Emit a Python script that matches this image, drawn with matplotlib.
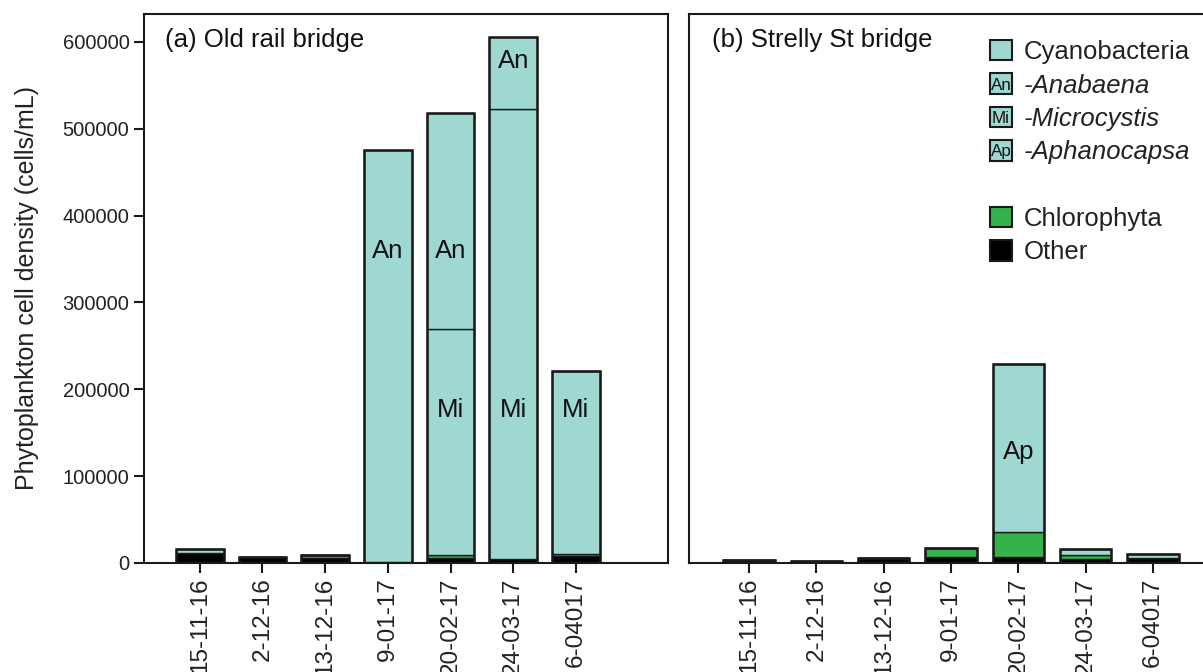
import numpy as np
import matplotlib
matplotlib.use('Agg')
import matplotlib.pyplot as plt
from matplotlib.patches import Rectangle
from matplotlib.text import Text
from matplotlib.legend_handler import HandlerPatch

plt.rcParams['font.family'] = ['Liberation Sans', 'DejaVu Sans']

# Sampling dates (as printed on the original figure)
dates = ['15-11-16', '2-12-16', '13-12-16', '9-01-17', '20-02-17', '24-03-17', '6-04017']

# (a) Old rail bridge, cells/mL
other_a = [11500, 7300, 6000, 1000, 6000, 4600, 8000]
chloro_a = [0, 0, 3600, 0, 3000, 0, 2000]
cyan_lo_a = [4500, 0, 0, 0, 260500, 518200, 211100]
cyan_hi_a = [0, 0, 0, 474600, 248700, 83000, 0]
lab_lo_a = ['', '', '', '', 'Mi', 'Mi', 'Mi']
lab_hi_a = ['', '', '', 'An', 'An', 'An', '']

# (b) Strelly St bridge, cells/mL
other_b = [3000, 2800, 5400, 6500, 6500, 4500, 5500]
chloro_b = [0, 0, 0, 11000, 28900, 4400, 0]
cyan_lo_b = [0, 0, 0, 0, 193800, 6900, 4500]
cyan_hi_b = [0, 0, 0, 0, 0, 0, 0]
lab_lo_b = ['', '', '', '', 'Ap', '', '']
lab_hi_b = ['', '', '', '', '', '', '']

CYAN = '#9ed8d1'
GREEN = '#35b24c'
DARK = '#1a1a1a'
W = 0.76


def draw_panel(ax, other, chloro, lo, hi, lab_lo, lab_hi, title):
    x = np.arange(len(dates))
    other = np.array(other)
    chloro = np.array(chloro)
    lo = np.array(lo)
    hi = np.array(hi)
    b1 = other
    b2 = b1 + chloro
    b3 = b2 + lo
    ax.bar(x, other, W, color='black', edgecolor=DARK, lw=1)
    ax.bar(x, chloro, W, bottom=b1, color=GREEN, edgecolor=DARK, lw=1)
    ax.bar(x, lo, W, bottom=b2, color=CYAN, edgecolor=DARK, lw=1)
    ax.bar(x, hi, W, bottom=b3, color=CYAN, edgecolor=DARK, lw=1)
    total = b3 + hi
    ax.bar(x, total, W, fill=False, edgecolor=DARK, lw=1.8)
    for i in range(len(x)):
        if lab_lo[i]:
            yl = 176000 if lab_lo[i] == 'Mi' else 128000
            ax.text(x[i], yl, lab_lo[i], ha='center', va='center', fontsize=18.5, color='#111')
        if lab_hi[i]:
            yh = 359000 if hi[i] > 200000 else b3[i] + hi[i] * 0.66
            ax.text(x[i], yh, lab_hi[i], ha='center', va='center', fontsize=18.5, color='#111')
    ax.set_xlim(-0.89, 7.47)
    ax.set_ylim(0, 632000)
    ax.set_xticks(x)
    ax.set_xticklabels(dates, rotation=90, fontsize=17.5, color='#222')
    ax.text(0.04, 0.953, title, transform=ax.transAxes, fontsize=18.5,
            va='center', ha='left', color='#111')
    for s in ax.spines.values():
        s.set_linewidth(1.5)
        s.set_color(DARK)
    ax.tick_params(axis='both', direction='out', length=7, width=1.5, color=DARK)


fig = plt.figure(figsize=(12.03, 6.72), dpi=100)
ax1 = fig.add_axes([144 / 1203, 1 - 563 / 672, 524 / 1203, 549 / 672])
ax2 = fig.add_axes([689 / 1203, 1 - 563 / 672, 563 / 1203, 549 / 672])

draw_panel(ax1, other_a, chloro_a, cyan_lo_a, cyan_hi_a, lab_lo_a, lab_hi_a, '(a) Old rail bridge')
draw_panel(ax2, other_b, chloro_b, cyan_lo_b, cyan_hi_b, lab_lo_b, lab_hi_b, '(b) Strelly St bridge')

ax1.set_yticks(np.arange(0, 600001, 100000))
ax1.set_yticklabels([str(v) for v in range(0, 600001, 100000)], fontsize=14.5, color='#222')
ax1.set_ylabel('Phytoplankton cell density (cells/mL)', fontsize=18, color='#222', labelpad=17)
ax2.set_yticks([])


class TagHandler(HandlerPatch):
    def __init__(self, tag):
        super().__init__()
        self.tag = tag

    def create_artists(self, legend, orig_handle, xdescent, ydescent, width, height, fontsize, trans):
        r = Rectangle((-xdescent, -ydescent), width, height, facecolor=orig_handle.get_facecolor(),
                      edgecolor=DARK, lw=1.5, transform=trans)
        arts = [r]
        if self.tag:
            t = Text(-xdescent + width / 2, -ydescent + height / 2 - 1, self.tag, ha='center', va='center',
                     fontsize=fontsize * 0.66, color='#111', transform=trans)
            arts.append(t)
        return arts


h_cy = Rectangle((0, 0), 1, 1, facecolor=CYAN)
h_an = Rectangle((0, 0), 1, 1, facecolor=CYAN)
h_mi = Rectangle((0, 0), 1, 1, facecolor=CYAN)
h_ap = Rectangle((0, 0), 1, 1, facecolor=CYAN)
h_blank = Rectangle((0, 0), 1, 1, visible=False)
h_ch = Rectangle((0, 0), 1, 1, facecolor=GREEN)
h_ot = Rectangle((0, 0), 1, 1, facecolor='black')

leg = fig.legend([h_cy, h_an, h_mi, h_ap, h_blank, h_ch, h_ot],
                 ['Cyanobacteria', '-Anabaena', '-Microcystis', '-Aphanocapsa', '', 'Chlorophyta', 'Other'],
                 handler_map={h_cy: TagHandler(''), h_an: TagHandler('An'), h_mi: TagHandler('Mi'),
                              h_ap: TagHandler('Ap'), h_ch: TagHandler(''), h_ot: TagHandler('')},
                 loc='upper left', bbox_to_anchor=(990 / 1203, 1 - 40 / 672), frameon=False,
                 fontsize=18.5, handlelength=0.85, handleheight=0.85, handletextpad=0.45,
                 labelspacing=0.36, borderpad=0, borderaxespad=0)
for i in (1, 2, 3):
    leg.get_texts()[i].set_style('italic')
for t in leg.get_texts():
    t.set_color('#222')

fig.savefig('out.png', dpi=100)
